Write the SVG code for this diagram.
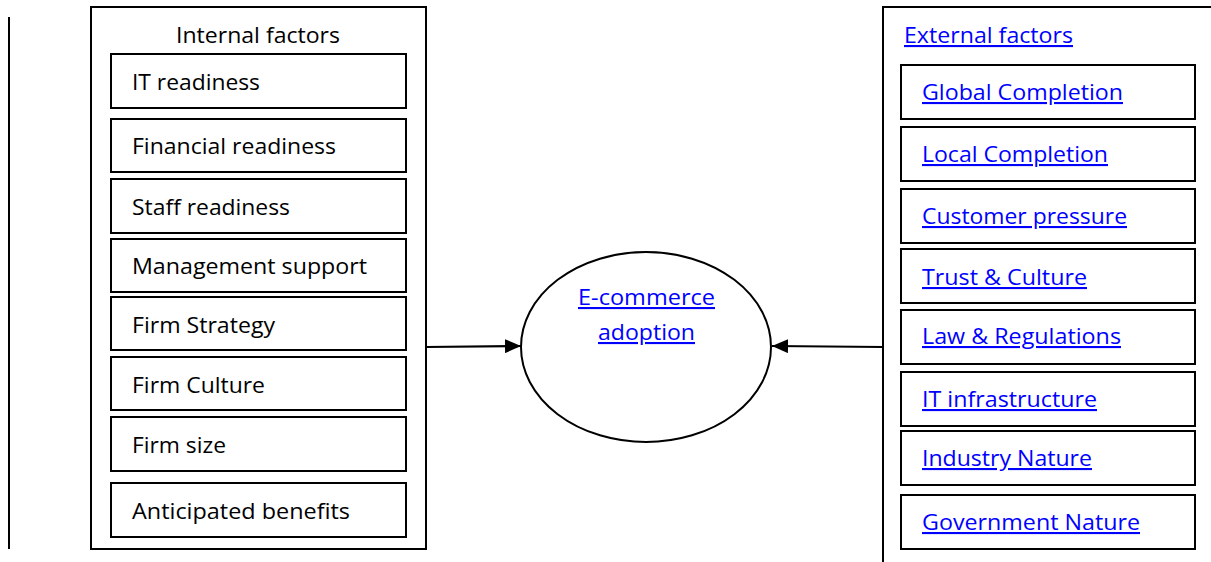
<svg xmlns="http://www.w3.org/2000/svg" width="1211" height="562" viewBox="0 0 1211 562">
  <defs>
    <marker id="arrow" viewBox="0 0 16 14" refX="16" refY="7" markerWidth="16" markerHeight="14" markerUnits="userSpaceOnUse" orient="auto">
      <path d="M0,0 L16,7 L0,14 Z" fill="#000"/>
    </marker>
    <style>
      .frame { fill: #fff; stroke: #000; stroke-width: 2; }
      .item { fill: #fff; stroke: #000; stroke-width: 2; }
      .lbl { font-family: "Open Sans", "Liberation Sans", sans-serif; font-size: 21px; fill: #000; }
      .link { font-family: "Open Sans", "Liberation Sans", sans-serif; font-size: 21px; fill: #0000ff; text-decoration: underline; }
      .conn { stroke: #000; stroke-width: 2.2; fill: none; }
    </style>
  </defs>

  <!-- page margin rule -->
  <line x1="9" y1="17" x2="9" y2="549" stroke="#000" stroke-width="2"/>

  <!-- internal factors panel -->
  <g id="internal">
    <rect class="frame" x="91" y="7" width="335" height="542"/>
    <text class="lbl" x="176" y="43" textLength="164" lengthAdjust="spacingAndGlyphs">Internal factors</text>
    <g id="it-readiness">
      <rect class="item" x="111" y="54" width="295" height="54"/>
      <text class="lbl" x="132" y="90" textLength="128" lengthAdjust="spacingAndGlyphs">IT readiness</text>
    </g>
    <g id="financial-readiness">
      <rect class="item" x="111" y="119" width="295" height="53"/>
      <text class="lbl" x="132" y="154" textLength="204" lengthAdjust="spacingAndGlyphs">Financial readiness</text>
    </g>
    <g id="staff-readiness">
      <rect class="item" x="111" y="179" width="295" height="54"/>
      <text class="lbl" x="132" y="215" textLength="158" lengthAdjust="spacingAndGlyphs">Staff readiness</text>
    </g>
    <g id="management-support">
      <rect class="item" x="111" y="239" width="295" height="53"/>
      <text class="lbl" x="132" y="274" textLength="235" lengthAdjust="spacingAndGlyphs">Management support</text>
    </g>
    <g id="firm-strategy">
      <rect class="item" x="111" y="297" width="295" height="53"/>
      <text class="lbl" x="132" y="333" textLength="143" lengthAdjust="spacingAndGlyphs">Firm Strategy</text>
    </g>
    <g id="firm-culture">
      <rect class="item" x="111" y="357" width="295" height="53"/>
      <text class="lbl" x="132" y="393" textLength="133" lengthAdjust="spacingAndGlyphs">Firm Culture</text>
    </g>
    <g id="firm-size">
      <rect class="item" x="111" y="417" width="295" height="54"/>
      <text class="lbl" x="132" y="453" textLength="94" lengthAdjust="spacingAndGlyphs">Firm size</text>
    </g>
    <g id="anticipated-benefits">
      <rect class="item" x="111" y="483" width="295" height="54"/>
      <text class="lbl" x="132" y="519" textLength="218" lengthAdjust="spacingAndGlyphs">Anticipated benefits</text>
    </g>
  </g>

  <!-- central construct -->
  <g id="adoption">
    <ellipse cx="646" cy="347" rx="125" ry="95" fill="#fff" stroke="#000" stroke-width="2"/>
    <text class="link" x="578" y="305" textLength="137" lengthAdjust="spacingAndGlyphs">E-commerce</text>
    <text class="link" x="598" y="340" textLength="97" lengthAdjust="spacingAndGlyphs">adoption</text>
  </g>

  <!-- external factors panel (runs past the page edge) -->
  <g id="external">
    <rect class="frame" x="883" y="7" width="340" height="570"/>
    <text class="link" x="904" y="43" textLength="169" lengthAdjust="spacingAndGlyphs">External factors</text>
    <g id="global-completion">
      <rect class="item" x="901" y="65" width="294" height="54"/>
      <text class="link" x="922" y="100" textLength="201" lengthAdjust="spacingAndGlyphs">Global Completion</text>
    </g>
    <g id="local-completion">
      <rect class="item" x="901" y="127" width="294" height="54"/>
      <text class="link" x="922" y="162" textLength="186" lengthAdjust="spacingAndGlyphs">Local Completion</text>
    </g>
    <g id="customer-pressure">
      <rect class="item" x="901" y="189" width="294" height="54"/>
      <text class="link" x="922" y="224" textLength="205" lengthAdjust="spacingAndGlyphs">Customer pressure</text>
    </g>
    <g id="trust-culture">
      <rect class="item" x="901" y="249" width="294" height="54"/>
      <text class="link" x="922" y="285" textLength="165" lengthAdjust="spacingAndGlyphs">Trust &amp; Culture</text>
    </g>
    <g id="law-regulations">
      <rect class="item" x="901" y="310" width="294" height="54"/>
      <text class="link" x="922" y="344" textLength="199" lengthAdjust="spacingAndGlyphs">Law &amp; Regulations</text>
    </g>
    <g id="it-infrastructure">
      <rect class="item" x="901" y="372" width="294" height="54"/>
      <text class="link" x="922" y="407" textLength="175" lengthAdjust="spacingAndGlyphs">IT infrastructure</text>
    </g>
    <g id="industry-nature">
      <rect class="item" x="901" y="431" width="294" height="54"/>
      <text class="link" x="922" y="466" textLength="170" lengthAdjust="spacingAndGlyphs">Industry Nature</text>
    </g>
    <g id="government-nature">
      <rect class="item" x="901" y="495" width="294" height="54"/>
      <text class="link" x="922" y="530" textLength="218" lengthAdjust="spacingAndGlyphs">Government Nature</text>
    </g>
  </g>

  <!-- connectors -->
  <g id="connectors">
    <line class="conn" x1="426" y1="347" x2="521" y2="346" marker-end="url(#arrow)"/>
    <line class="conn" x1="883" y1="347" x2="772" y2="346" marker-end="url(#arrow)"/>
  </g>
</svg>
